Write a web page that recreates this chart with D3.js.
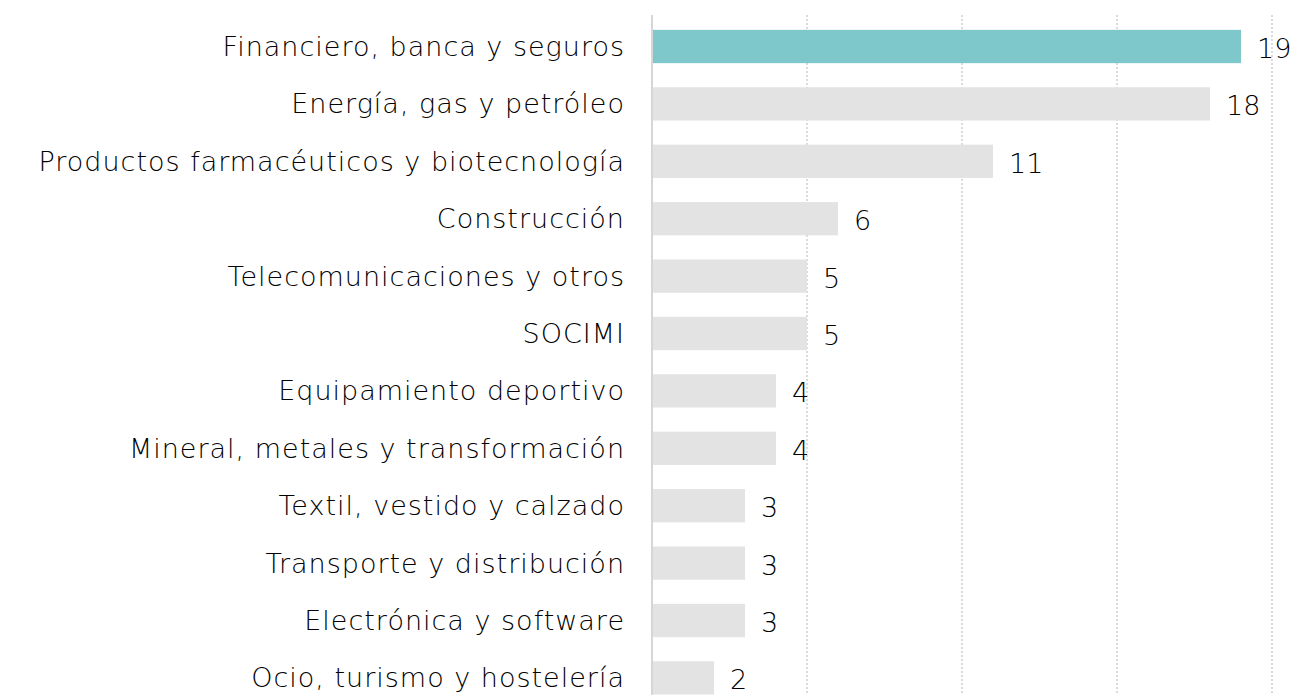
<!DOCTYPE html>
<html>
  <head>
    <meta charset="utf-8"/>
    <script type="text/javascript" src="https://cdnjs.cloudflare.com/ajax/libs/d3/7.8.5/d3.min.js"></script>
    <style type="text/css">

html, body {
  margin: 0;
  padding: 0;
  background: #fff;
}

svg text {
  font-family: "DejaVu Sans", sans-serif;
  font-weight: 200;
  font-size: 27px;
  letter-spacing: 1px;
  fill: #000;
}

svg text.value {
  letter-spacing: 0;
}

.grid line {
  stroke: #cfcfcf;
  stroke-width: 1.5px;
  stroke-dasharray: 2,2;
}

    </style>
  </head>
  <body>
    <svg id="chart" width="1292" height="695"></svg>
    <script type="text/javascript">

// sectors, top to bottom
var sectors = [
  "Financiero, banca y seguros",
  "Energía, gas y petróleo",
  "Productos farmacéuticos y biotecnología",
  "Construcción",
  "Telecomunicaciones y otros",
  "SOCIMI",
  "Equipamiento deportivo",
  "Mineral, metales y transformación",
  "Textil, vestido y calzado",
  "Transporte y distribución",
  "Electrónica y software",
  "Ocio, turismo y hostelería"
];
var counts = [19, 18, 11, 6, 5, 5, 4, 4, 3, 3, 3, 2];
var gridTicks = [5, 10, 15, 20];
var highlight = "Financiero, banca y seguros";

var svg = d3.select("#chart");

var x = d3.scaleLinear()
    .domain([0, 20])
    .range([652, 1272]);

var y = d3.scaleBand()
    .domain(sectors)
    .range([17.8, 706.6])
    .paddingInner(0.42)
    .paddingOuter(0.21);

// dotted vertical gridlines
svg.append("g")
    .attr("class", "grid")
  .selectAll("line")
    .data(gridTicks)
  .enter().append("line")
    .attr("x1", function(d) { return x(d); })
    .attr("x2", function(d) { return x(d); })
    .attr("y1", 15)
    .attr("y2", 695);

// bars
svg.append("g")
  .selectAll("rect")
    .data(sectors)
  .enter().append("rect")
    .attr("x", x(0))
    .attr("y", function(d) { return y(d); })
    .attr("width", function(d, i) { return x(counts[i]) - x(0); })
    .attr("height", y.bandwidth())
    .attr("fill", function(d) { return d === highlight ? "#7ec8cb" : "#e3e3e3"; });

// axis line
svg.append("line")
    .attr("x1", x(0))
    .attr("x2", x(0))
    .attr("y1", 15)
    .attr("y2", 695)
    .attr("stroke", "#d6d6d6")
    .attr("stroke-width", 2);

// category labels
svg.append("g")
  .selectAll("text")
    .data(sectors)
  .enter().append("text")
    .attr("x", 625)
    .attr("y", function(d) { return y(d) + y.bandwidth() / 2; })
    .attr("dy", "0.35em")
    .attr("text-anchor", "end")
    .text(function(d) { return d; });

// value labels
svg.append("g")
  .selectAll("text")
    .data(sectors)
  .enter().append("text")
    .attr("class", "value")
    .attr("x", function(d, i) { return x(counts[i]) + 16; })
    .attr("y", function(d) { return y(d) + y.bandwidth() / 2 + 2; })
    .attr("dy", "0.35em")
    .text(function(d, i) { return counts[i]; });

    </script>
  </body>
</html>
